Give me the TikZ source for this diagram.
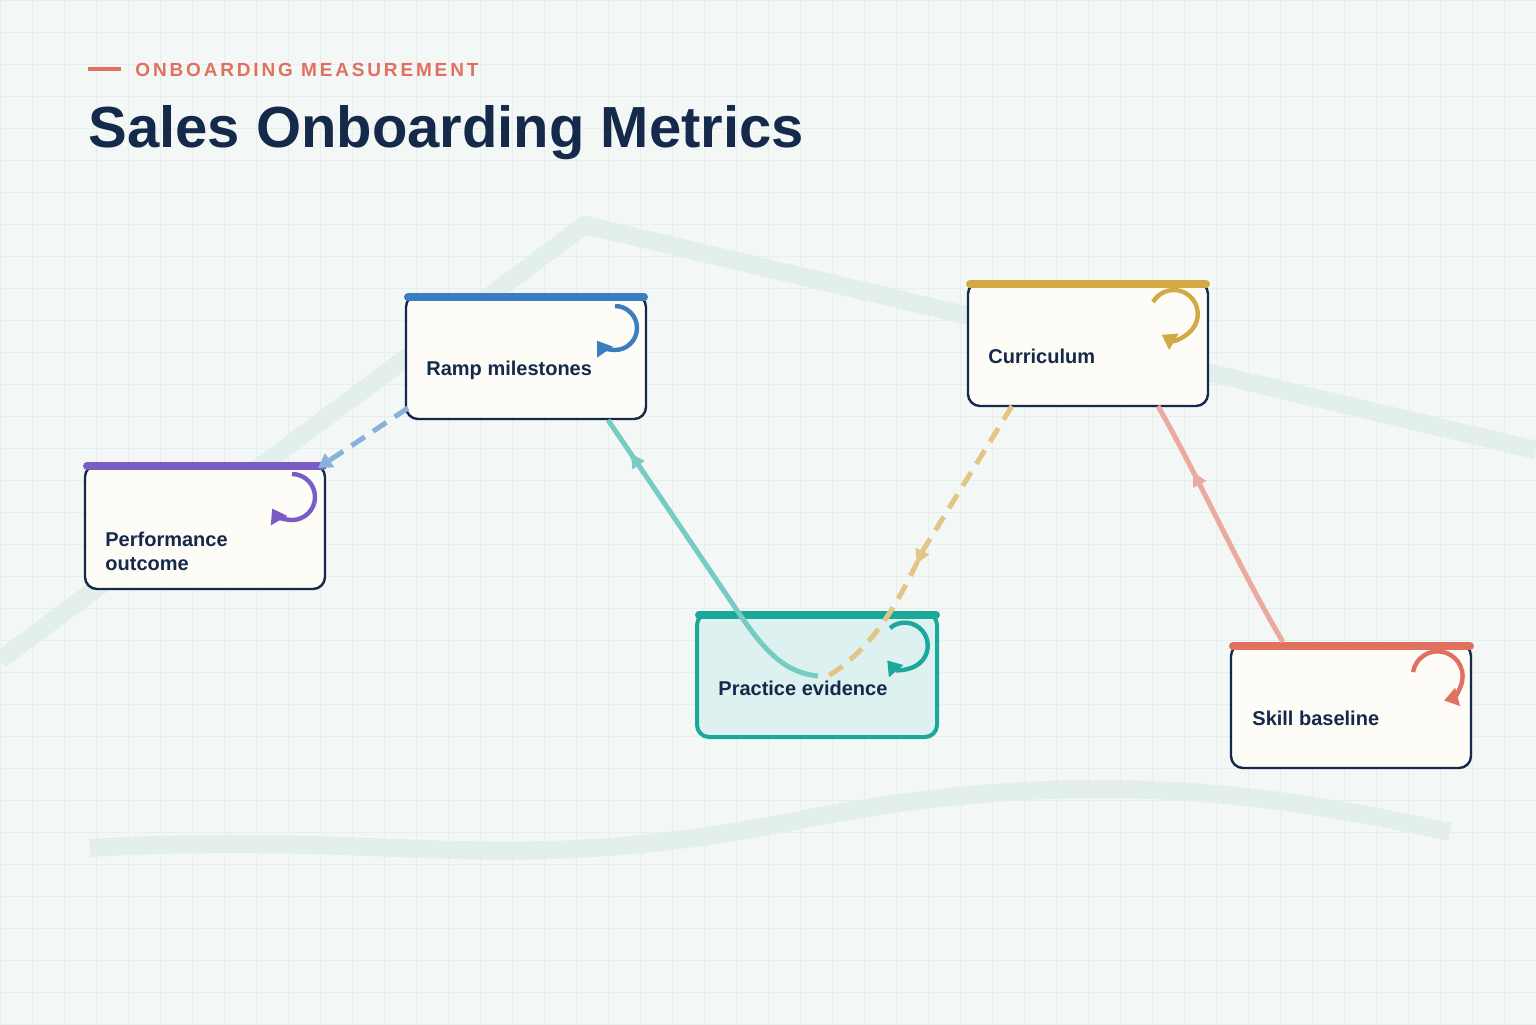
\documentclass[tikz,border=0pt]{standalone}
\usepackage{fontspec}
\setmainfont{Liberation Sans}
\usetikzlibrary{arrows.meta,decorations.markings}
\definecolor{navy}{HTML}{15294A}
\definecolor{cblue}{HTML}{3A7DC0}
\definecolor{cpurple}{HTML}{7A5CC4}
\definecolor{cgold}{HTML}{D4A843}
\definecolor{cteal}{HTML}{1AA89A}
\definecolor{ccoral}{HTML}{E07060}
\definecolor{bg}{HTML}{F3F7F5}
\definecolor{gridc}{HTML}{E7EFEC}
\definecolor{band}{HTML}{E2EFEC}
\definecolor{boxfill}{HTML}{FDFCF7}
\begin{document}
\begin{tikzpicture}[x=0.5pt,y=-0.5pt,
 box/.style={draw=navy,line width=1.2pt,rounded corners=6pt,fill=boxfill,minimum width=120pt,minimum height=62pt,inner sep=0},
 lbl/.style={anchor=west,font=\bfseries\fontsize{10}{12}\selectfont,text=navy,align=left,inner sep=0},
 bar/.style={line width=4pt,line cap=round},
 loop/.style={line width=2.2pt,-{Triangle[length=7pt,width=9pt]}},
 mk/.style={postaction={decorate},decoration={markings,mark=at position #1 with {\arrow{Triangle[length=7pt,width=7pt]}}}}]
\useasboundingbox (0,0) rectangle (1536,1024);
\fill[bg] (0,0) rectangle (1536,1024);
\foreach \i in {0,32,...,1536} \draw[gridc,line width=0.4pt] (\i,0) -- (\i,1024);
\foreach \i in {0,32,...,1024} \draw[gridc,line width=0.4pt] (0,\i) -- (1536,\i);
\draw[band,line width=9pt,line join=round] (0,660) -- (585,225) -- (1536,450);
\draw[band,line width=9pt] (90,848) .. controls (400,830) and (500,880) .. (800,820) .. controls (1100,760) and (1300,800) .. (1450,832);
% header
\draw[ccoral,line width=2pt] (88,69) -- (121,69);
\node[anchor=west,inner sep=0,text=ccoral,font=\bfseries\fontsize{9.5}{11}\selectfont\addfontfeature{LetterSpace=15}] (sub) at (135,70) {ONBOARDING MEASUREMENT};
\node[anchor=west,inner sep=0,text=navy,font=\bfseries\fontsize{29}{34}\selectfont] (title) at (88,133) {Sales Onboarding Metrics};
% nodes
\node[box] (ramp) at (526,357) {};
\draw[bar,cblue] (408,297) -- (644,297);
\node[lbl] (rampl) at (426,370) {Ramp milestones};
\draw[loop,cblue] (615,306) arc (-90:145:22);
\node[box] (perf) at (205,527) {};
\draw[bar,cpurple] (87,466) -- (323,466);
\node[lbl] (perfl) at (105,551) {Performance\\outcome};
\draw[loop,cpurple] (292,474) arc (-90:150:23);
\node[box] (curr) at (1088,344) {};
\draw[bar,cgold] (970,284) -- (1206,284);
\node[lbl] (currl) at (988,356) {Curriculum};
\draw[loop,cgold] (1153,302) arc (-150:120:24);
\node[box,draw=cteal,line width=2pt,fill=cteal!15] (prac) at (817,675) {};
\draw[bar,cteal] (699,615) -- (936,615);
\node[lbl] (pracl) at (718,688) {Practice evidence};
\draw[loop,cteal] (890,628) arc (-130:140:23);
\node[box] (skill) at (1351,706) {};
\draw[bar,ccoral] (1233,646) -- (1470,646);
\node[lbl] (skilll) at (1252,718) {Skill baseline};
\draw[loop,ccoral] (1413,672) arc (-170:75:25);
% connectors
\coordinate (a1) at (408,408); \coordinate (a2) at (318,468);
\draw[cblue!60,line width=2.5pt,dash pattern=on 8pt off 5pt,-{Triangle[length=7pt,width=8pt]}] (a1) -- (a2);
\coordinate (t1) at (818,676); \coordinate (t2) at (730,600); \coordinate (t3) at (608,420);
\draw[cteal!60,line width=2.5pt,mk=0.88] (t1) .. controls (780,672) and (760,645) .. (t2) -- (t3);
\coordinate (g1) at (1012,406); \coordinate (g2) at (922,552); \coordinate (g3) at (828,676);
\draw[cgold!65,line width=2.5pt,dash pattern=on 8pt off 5pt,mk=0.56] (g1) -- (g2) .. controls (895,610) and (870,650) .. (g3);
\coordinate (c1) at (1283,642); \coordinate (c2) at (1158,406);
\draw[ccoral!60,line width=2.5pt,mk=0.72] (c1) .. controls (1240,570) and (1200,480) .. (c2);
\end{tikzpicture}
\end{document}
